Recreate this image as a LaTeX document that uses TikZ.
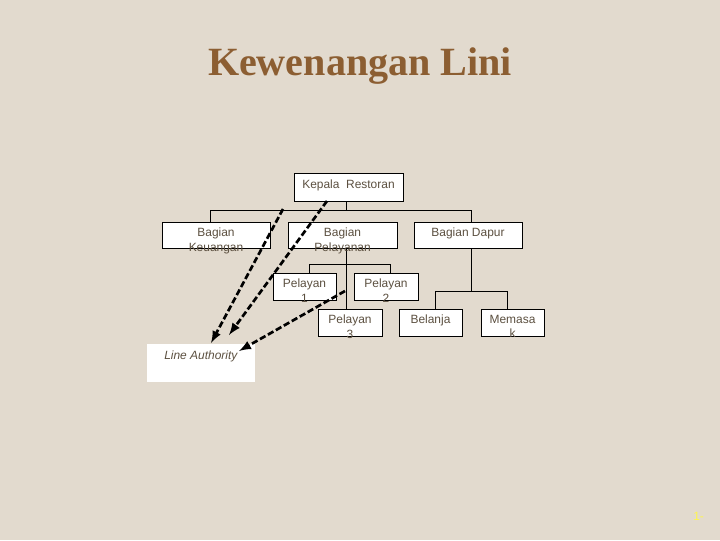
\documentclass[tikz,border=0pt]{standalone}
\usepackage{fontspec}
\setmainfont{Liberation Sans}
\newfontfamily\titlefont{Liberation Serif}
\definecolor{paper}{RGB}{226,218,206}
\definecolor{titlebrown}{RGB}{140,94,50}
\definecolor{boxtext}{RGB}{92,80,64}
\newlength\pxu
\setlength\pxu{0.025cm}
\tikzset{unit/.style= {draw, fill=white, line width=0.6pt, inner sep=0pt}}
\tikzset{unittext/.style= {text=boxtext, font=\fontsize{8.5}{10}\selectfont, align=center, anchor=north, inner sep=0pt}}
\tikzset{tree/.style= {line width=0.6pt}}
\tikzset{authority/.style= {-latex, line width=1.9pt, dash pattern=on 4.5pt off 2pt}}

\begin{document}
\begin{tikzpicture}[x=0.025cm, y=-0.025cm]
        \fill[paper](0,0)rectangle(720,540);
        \useasboundingbox(0,0)rectangle(720,540);

        \node[text=titlebrown, font=\titlefont\bfseries\fontsize{28.5}{30}\selectfont, anchor=base](title)at(360,75){Kewenangan Lini};

        \node[unit, minimum width=109\pxu, minimum height=28\pxu](kepala)at(348.5,187){};
        \node[unit, minimum width=108\pxu, minimum height=26\pxu](keuangan)at(216,235){};
        \node[unit, minimum width=109\pxu, minimum height=26\pxu](pelayanan)at(342.5,235){};
        \node[unit, minimum width=108\pxu, minimum height=26\pxu](dapur)at(468,235){};
        \node[unit, minimum width=63\pxu, minimum height=27\pxu](pel1)at(304.5,286.5){};
        \node[unit, minimum width=64\pxu, minimum height=27\pxu](pel2)at(386,286.5){};
        \node[unit, minimum width=64\pxu, minimum height=27\pxu](pel3)at(350,322.5){};
        \node[unit, minimum width=63\pxu, minimum height=27\pxu](belanja)at(430.5,322.5){};
        \node[unit, minimum width=63\pxu, minimum height=27\pxu](memasak)at(512.5,322.5){};

        \coordinate(busl)at(210,210);
        \coordinate(busr)at(471,210);
        \coordinate(pelbusl)at(309,264);
        \coordinate(pelbusr)at(390,264);
        \coordinate(dapbusl)at(435,291);
        \coordinate(dapbusr)at(507,291);

        \draw[tree](346,201)--(346,210);
        \draw[tree](busl|-keuangan.north)--(busl)--(busr)--(busr|-dapur.north);
        \draw[tree](346,248)--(346,309);
        \draw[tree](pelbusl|-pel1.north)--(pelbusl)--(pelbusr)--(pelbusr|-pel2.north);
        \draw[tree](471,248)--(471,291);
        \draw[tree](dapbusl|-belanja.north)--(dapbusl)--(dapbusr)--(dapbusr|-memasak.north);

        \node[unittext](kepalatxt)at(348.5,179.5){Kepala\ \ Restoran};
        \node[unittext](keuangantxt)at(216,228){Bagian\\Keuangan};
        \node[unittext](pelayanantxt)at(342.5,228){Bagian\\Pelayanan};
        \node[unittext](dapurtxt)at(468,228){Bagian Dapur};
        \node[unittext](pel1txt)at(304.5,279){Pelayan\\1};
        \node[unittext](pel2txt)at(386,279){Pelayan\\2};
        \node[unittext](pel3txt)at(350,315){Pelayan\\3};
        \node[unittext](belanjatxt)at(430.5,315){Belanja};
        \node[unittext](memasaktxt)at(512.5,315){Memasa\\k};

        \node[fill=white, minimum width=108\pxu, minimum height=38\pxu, inner sep=0pt](line)at(201,363){};
        \node[text=boxtext, font=\fontsize{8.5}{10}\selectfont\itshape, anchor=west, inner sep=0pt](linetxt)at(164,356){Line Authority};

        \coordinate(from1)at(283,209);
        \coordinate(from2)at(327,201);
        \coordinate(from3)at(345,291);
        \coordinate(to1)at(211,343);
        \coordinate(to2)at(229,335);
        \coordinate(to3)at(239,351);
        \draw[authority](from1)--(to1);
        \draw[authority](from2)--(to2);
        \draw[authority](from3)--(to3);

        \node[text=yellow!70!white, font=\fontsize{8.5}{10}\selectfont, anchor=west, inner sep=0pt](page)at(693,516){1-};
    \end{tikzpicture}
\end{document}
